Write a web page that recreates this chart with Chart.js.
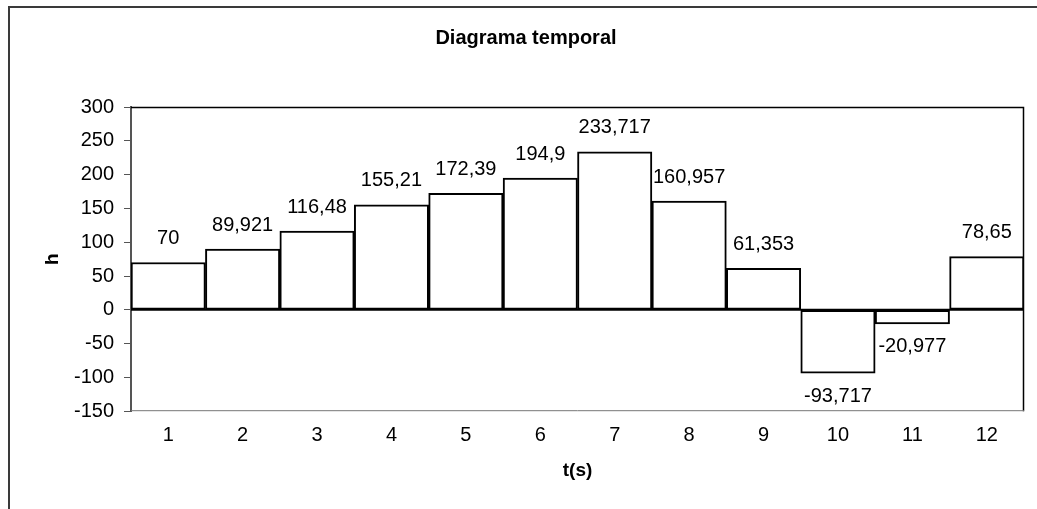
<!DOCTYPE html>
<html>
<head>
<title>Diagrama temporal</title>
<script src="https://cdn.jsdelivr.net/npm/chart.js@4/dist/chart.umd.min.js"></script>
<style>
  body { margin: 0; background: #fff; overflow: hidden; }
  #wrap { width: 1037px; height: 509px; position: relative; }
</style>
</head>
<body>
<div id="wrap"><canvas id="bars"></canvas></div>
<script>
// datos
var categorias = ['1', '2', '3', '4', '5', '6', '7', '8', '9', '10', '11', '12'];
var valores = [70, 89.921, 116.48, 155.21, 172.39, 194.9, 233.717, 160.957, 61.353, -93.717, -20.977, 78.65];
var etiquetas = ['70', '89,921', '116,48', '155,21', '172,39', '194,9', '233,717', '160,957', '61,353', '-93,717', '-20,977', '78,65'];
var yTicks = [-150, -100, -50, 0, 50, 100, 150, 200, 250, 300];

var fuente = "'Liberation Sans', Arial, sans-serif";

// marco exterior y marco del area de trazado
var marcos = {
	id: 'marcos',
	beforeDraw: function(chart) {
		var c = chart.ctx;
		c.save();
		c.strokeStyle = '#3a3a3a';
		c.lineWidth = 2;
		c.beginPath();
		c.moveTo(9, 600);
		c.lineTo(9, 7);
		c.lineTo(1100, 7);
		c.stroke();
		c.restore();
	},
	afterDatasetsDraw: function(chart) {
		var a = chart.chartArea, c = chart.ctx;
		c.save();
		c.lineWidth = 1.5;
		c.strokeStyle = '#000';
		c.beginPath();
		c.moveTo(a.left, a.top + 0.5);
		c.lineTo(a.right - 0.5, a.top + 0.5);
		c.lineTo(a.right - 0.5, a.bottom);
		c.stroke();
		c.lineWidth = 1;
		c.strokeStyle = '#777';
		c.beginPath();
		c.moveTo(a.left, a.bottom - 0.5);
		c.lineTo(a.right, a.bottom - 0.5);
		c.stroke();
		// eje de categorias en y = 0
		var y0 = chart.scales.y.getPixelForValue(0);
		c.strokeStyle = '#000';
		c.lineWidth = 2;
		c.beginPath();
		c.moveTo(a.left, y0);
		c.lineTo(a.right, y0);
		c.stroke();
		c.restore();
	}
};

// etiquetas de datos sobre / bajo cada barra
var rotulos = {
	id: 'rotulos',
	afterDraw: function(chart) {
		var c = chart.ctx;
		var meta = chart.getDatasetMeta(0);
		c.save();
		c.font = '20px ' + fuente;
		c.fillStyle = '#000';
		c.textAlign = 'center';
		c.textBaseline = 'middle';
		meta.data.forEach(function(bar, i) {
			var v = valores[i];
			var y = v >= 0 ? bar.y - 24 : bar.y + 23;
			c.fillText(etiquetas[i], bar.x, y);
		});
		c.restore();
	}
};

var ctx = document.getElementById('bars').getContext('2d');
var chart = new Chart(ctx, {
	type: 'bar',
	data: {
		labels: categorias,
		datasets: [{
			label: 'h',
			data: valores,
			backgroundColor: '#fff',
			borderColor: '#000',
			borderWidth: 2,
			borderSkipped: false,
			categoryPercentage: 1,
			barPercentage: 1
		}]
	},
	options: {
		responsive: true,
		maintainAspectRatio: false,
		animation: false,
		layout: { padding: { left: 28, right: 13, top: 0, bottom: 27 } },
		plugins: {
			legend: { display: false },
			tooltip: { enabled: false },
			title: {
				display: true,
				text: 'Diagrama temporal',
				color: '#000',
				font: { family: fuente, size: 20, weight: 'bold' },
				padding: { top: 26, bottom: 57 }
			}
		},
		scales: {
			x: {
				grid: { display: false, drawTicks: false },
				border: { display: false },
				ticks: { color: '#000', padding: 12, font: { family: fuente, size: 20 } },
				title: {
					display: true,
					text: 't(s)',
					color: '#000',
					font: { family: fuente, size: 19, weight: 'bold' },
					padding: { top: 0, bottom: 0 }
				}
			},
			y: {
				min: -150,
				max: 300,
				afterBuildTicks: function(scale) {
					scale.ticks = yTicks.map(function(v) { return { value: v }; });
				},
				afterFit: function(scale) { scale.width = 103; },
				grid: {
					drawOnChartArea: false,
					tickLength: 7,
					tickColor: '#555',
					tickWidth: 1
				},
				border: { display: true, color: '#555', width: 2 },
				ticks: { color: '#000', padding: 10, font: { family: fuente, size: 20 } },
				title: {
					display: true,
					text: 'h',
					color: '#000',
					font: { family: fuente, size: 19, weight: 'bold' },
					padding: { top: 13, bottom: 0 }
				}
			}
		}
	},
	plugins: [marcos, rotulos]
});
</script>
</body>
</html>
